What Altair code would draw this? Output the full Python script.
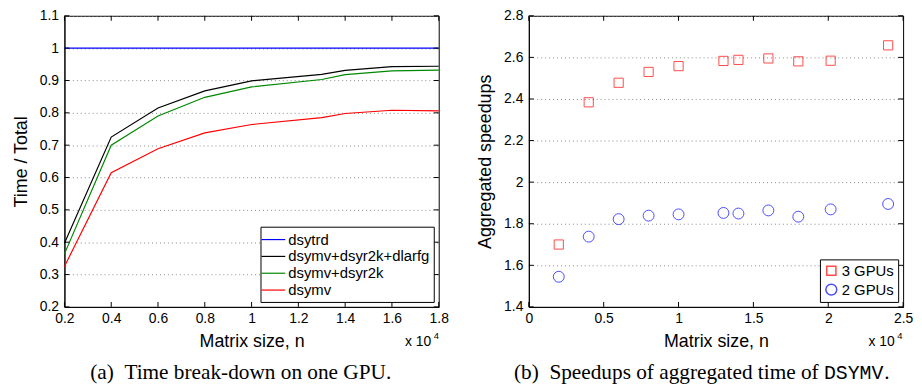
import altair as alt
import pandas as pd

# ---------------- data ----------------
n_a = [2000, 4000, 6000, 8000, 10000, 13000, 14000, 16000, 18000]
dsytrd = [1.0, 1.0, 1.0, 1.0, 1.0, 1.0, 1.0, 1.0, 1.0]
dsymv_dsyr2k_dlarfg = [0.397, 0.725, 0.815, 0.868, 0.899, 0.919, 0.931, 0.943, 0.944]
dsymv_dsyr2k = [0.364, 0.700, 0.790, 0.848, 0.880, 0.903, 0.918, 0.930, 0.932]
dsymv = [0.325, 0.615, 0.689, 0.738, 0.764, 0.785, 0.798, 0.808, 0.806]
series_a = ["dsytrd", "dsymv+dsyr2k+dlarfg", "dsymv+dsyr2k", "dsymv"]
colors_a = ["#0000ff", "#000000", "#008800", "#ff0000"]

n_b = [2000, 4000, 6000, 8000, 10000, 13000, 14000, 16000, 18000, 20160, 24000]
gpu3 = [1.700, 2.384, 2.478, 2.530, 2.558, 2.583, 2.588, 2.595, 2.581, 2.584, 2.658]
gpu2 = [1.545, 1.738, 1.822, 1.839, 1.845, 1.852, 1.849, 1.864, 1.834, 1.869, 1.895]
series_b = ["3 GPUs", "2 GPUs"]

xticks_a = [2000, 4000, 6000, 8000, 10000, 12000, 14000, 16000, 18000]
yticks_a = [0.2, 0.3, 0.4, 0.5, 0.6, 0.7, 0.8, 0.9, 1.0, 1.1]
xticks_b = [0, 5000, 10000, 15000, 20000, 25000]
yticks_b = [1.4, 1.6, 1.8, 2.0, 2.2, 2.4, 2.6, 2.8]

caption_a = "(a)\u00a0\u00a0Time break-down on one GPU."
caption_b = "(b)\u00a0\u00a0Speedups of aggregated time of "
caption_b_mono = "DSYMV"
caption_b_end = "."
xlabel = "Matrix size, n"
ylabel_a = "Time / Total"
ylabel_b = "Aggregated speedups"
exp_base = "x 10"
exp_pow = "4"

W, H = 378, 294
SANS = "Liberation Sans"
TICK = 5

# ---------------- tables ----------------
rows_a = []
for name, vals in zip(series_a, [dsytrd, dsymv_dsyr2k_dlarfg, dsymv_dsyr2k, dsymv]):
    for n, v in zip(n_a, vals):
        rows_a.append({"n": n, "value": v, "series": name})
df_a = pd.DataFrame(rows_a)

rows_b = []
for name, vals in zip(series_b, [gpu3, gpu2]):
    for n, v in zip(n_b, vals):
        rows_b.append({"n": n, "value": v, "series": name})
df_b = pd.DataFrame(rows_b)


def xaxis(values):
    return alt.Axis(values=values, ticks=False, tickSize=0, grid=False,
                    labelExpr="format(datum.value / 10000, '~g')",
                    labelFlush=False, labelOverlap=False,
                    labelPadding=5, title=xlabel, titlePadding=7)


def yaxis(values, title):
    return alt.Axis(values=values, ticks=False, tickSize=0, grid=True, format="~g",
                    labelOverlap=False,
                    labelPadding=6, title=title, titlePadding=9)


def encs(xt, yt, xdom, ydom, ytitle):
    xe = alt.X("n:Q", scale=alt.Scale(domain=xdom, nice=False, zero=False),
               axis=xaxis(xt), title=xlabel)
    ye = alt.Y("value:Q", scale=alt.Scale(domain=ydom, nice=False, zero=False),
               axis=yaxis(yt, ytitle), title=ytitle)
    return xe, ye


def tick_layers(xt, yt, xe, ye):
    dx = pd.DataFrame({"n": xt})
    dy = pd.DataFrame({"value": yt})
    base_x = alt.Chart(dx).mark_rule(color="black", strokeWidth=1)
    base_y = alt.Chart(dy).mark_rule(color="black", strokeWidth=1)
    return [
        base_x.encode(x=xe, y=alt.value(H), y2=alt.value(H - TICK)),
        base_x.encode(x=xe, y=alt.value(0), y2=alt.value(TICK)),
        base_y.encode(y=ye, x=alt.value(0), x2=alt.value(TICK)),
        base_y.encode(y=ye, x=alt.value(W), x2=alt.value(W - TICK)),
    ]


def text_layer(txt, x, y, size, font=SANS, align="left", baseline="alphabetic"):
    return alt.Chart(pd.DataFrame({"t": [txt]})).mark_text(
        font=font, fontSize=size, align=align, baseline=baseline, color="black"
    ).encode(text="t:N", x=alt.value(x), y=alt.value(y))


# ---------------- panel (a) ----------------
xe_a, ye_a = encs(xticks_a, yticks_a, [2000, 18000], [0.2, 1.1], ylabel_a)

lines = alt.Chart(df_a).mark_line(strokeWidth=1.2).encode(
    x=xe_a,
    y=ye_a,
    color=alt.Color("series:N", sort=series_a,
                    scale=alt.Scale(domain=series_a, range=colors_a),
                    legend=alt.Legend(title=None, orient="bottom-right", offset=5,
                                      symbolType="M-1.5,0H1.5", symbolSize=256,
                                      symbolStrokeWidth=1.2, rowPadding=0,
                                      labelOffset=6, padding=4)),
)

panel_a = alt.layer(
    lines,
    *tick_layers(xticks_a, yticks_a, xe_a, ye_a),
    text_layer(caption_a, 26, 367, 21.5, font="Liberation Serif"),
    text_layer(exp_base, 344, 333, 14),
    text_layer(exp_pow, 373, 326, 9.5),
).properties(width=W, height=H)

# ---------------- panel (b) ----------------
xe_b, ye_b = encs(xticks_b, yticks_b, [0, 25000], [1.4, 2.8], ylabel_b)

points = alt.Chart(df_b).mark_point(filled=False, strokeWidth=1).encode(
    x=xe_b,
    y=ye_b,
    color=alt.Color("series:N", sort=series_b,
                    scale=alt.Scale(domain=series_b, range=["#ff0000", "#0000ff"]),
                    legend=alt.Legend(title=None, orient="bottom-right", offset=5,
                                      symbolSize=100)),
    shape=alt.Shape("series:N", sort=series_b,
                    scale=alt.Scale(domain=series_b, range=["square", "circle"]),
                    legend=alt.Legend(title=None, orient="bottom-right", offset=5,
                                      symbolSize=100)),
    size=alt.Size("series:N", scale=alt.Scale(domain=series_b, range=[86, 121]),
                  legend=None),
)

panel_b = alt.layer(
    points,
    *tick_layers(xticks_b, yticks_b, xe_b, ye_b),
    text_layer(caption_b, -15, 367, 21.5, font="Liberation Serif"),
    text_layer(caption_b_mono, 298, 367, 20, font="Liberation Mono"),
    text_layer(caption_b_end, 359, 367, 21.5, font="Liberation Serif"),
    text_layer(exp_base, 343, 333, 14),
    text_layer(exp_pow, 372, 326, 9.5),
).properties(width=W, height=H)

chart = alt.hconcat(panel_a, panel_b, spacing=91, bounds="flush").resolve_scale(
    color="independent", shape="independent", size="independent"
).resolve_legend(
    color="independent", shape="independent", size="independent"
).properties(
    padding={"left": 4, "top": -2, "right": 0, "bottom": 0}
).configure_view(
    stroke="black", strokeWidth=1
).configure_axis(
    labelFont=SANS, labelFontSize=14, labelColor="black",
    titleFont=SANS, titleFontSize=18, titleFontWeight="normal", titleColor="black",
    domainColor="black", domainWidth=1,
    gridColor="#888888", gridDash=[1, 3], gridWidth=1,
).configure_legend(
    labelFont=SANS, labelFontSize=15, labelColor="black",
    strokeColor="black", fillColor="white", padding=4,
    rowPadding=2, labelOffset=3, cornerRadius=0,
)

chart.save("out.html", embed_options={"renderer": "svg", "actions": False})
